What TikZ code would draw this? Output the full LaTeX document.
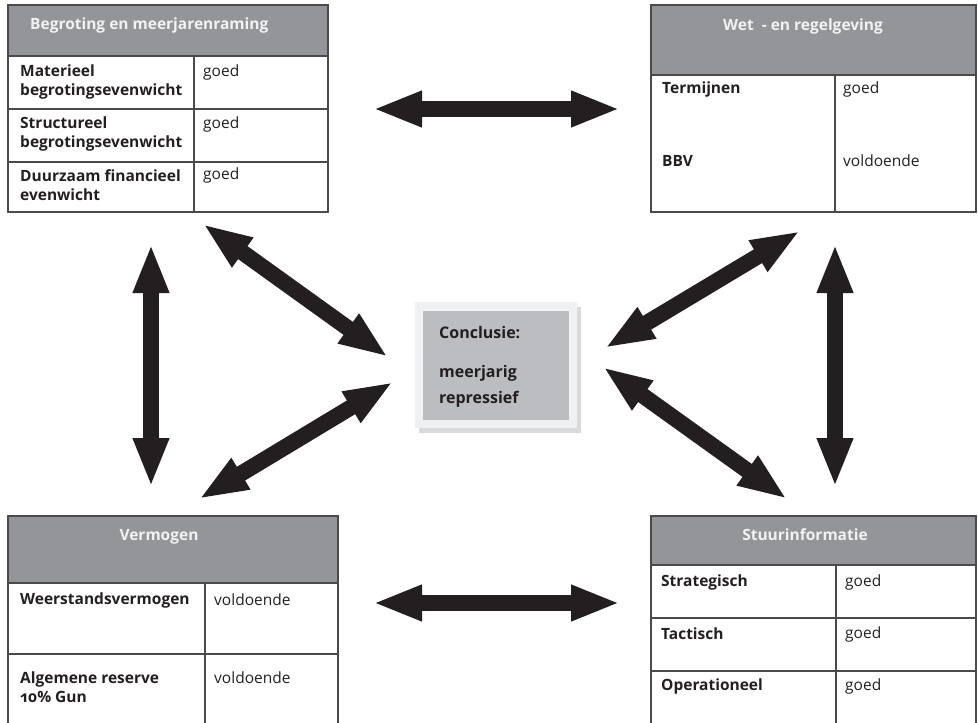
\documentclass[tikz,border=0pt]{standalone}
\usepackage{fontspec}
\setmainfont{Open Sans}[Numbers=OldStyle]
\usetikzlibrary{arrows.meta}
\definecolor{hdr}{HTML}{939598}
\definecolor{hdrtxt}{HTML}{F2F2F2}
\definecolor{rule}{HTML}{4A4A4A}
\definecolor{arr}{HTML}{231F20}
\definecolor{cout}{HTML}{EFF0F2}
\definecolor{cshadow}{HTML}{D9DADC}
\definecolor{cin}{HTML}{BCBDC0}
\definecolor{txt}{HTML}{231F20}
\tikzset{
  tbl/.style={draw=rule, line width=1.3pt, inner sep=0pt, anchor=north west},
  gridline/.style={draw=rule, line width=1.3pt},
  htext/.style={font=\fontsize{15.5}{19}\selectfont\bfseries, text=hdrtxt, inner sep=0pt},
  ltext/.style={font=\fontsize{15.5}{19.5}\selectfont\bfseries, text=txt, inner sep=0pt, anchor=west, align=left},
  vtext/.style={font=\fontsize{15.5}{19.5}\selectfont, text=txt, inner sep=0pt, anchor=west},
  ctext/.style={font=\fontsize{16}{26}\selectfont\bfseries, text=txt, inner sep=0pt, anchor=west, align=left},
  dblarrow/.style={draw=arr, line width=16pt, {Triangle[width=33pt,length=49pt]}-{Triangle[width=33pt,length=49pt]}}
}
\begin{document}
\begin{tikzpicture}[x=1pt,y=-1pt]
\useasboundingbox (0,0) rectangle (978,723);
% ---------- top-left table ----------
\node[tbl, minimum width=320pt, minimum height=207pt] (tl) at (8,5) {};
\fill[hdr] (8,5) rectangle (328,56);
\draw[gridline] (8,5) rectangle (328,212);
\draw[gridline] (8,56) -- (328,56);
\draw[gridline] (8,109) -- (328,109);
\draw[gridline] (8,162) -- (328,162);
\draw[gridline] (194,56) -- (194,212);
\node[htext, anchor=west] (tlh) at (30,25) {Begroting en meerjarenraming};
\node[ltext] (tl1) at (20,82) {Materieel\\begrotingsevenwicht};
\node[vtext] (tl1v) at (203,72) {goed};
\node[ltext] (tl2) at (20,134) {Structureel\\begrotingsevenwicht};
\node[vtext] (tl2v) at (203,124) {goed};
\node[ltext] (tl3) at (20,185) {Duurzaam financieel\\evenwicht};
\node[vtext] (tl3v) at (203,175) {goed};
% ---------- top-right table ----------
\node[tbl, minimum width=325pt, minimum height=207pt] (tr) at (651,5) {};
\fill[hdr] (651,5) rectangle (976,75);
\draw[gridline] (651,5) rectangle (976,212);
\draw[gridline] (651,75) -- (976,75);
\draw[gridline] (835,75) -- (835,212);
\node[htext] (trh) at (803,26) {Wet \ - en regelgeving};
\node[ltext] (tr1) at (662,89) {Termijnen};
\node[vtext] (tr1v) at (843,89) {goed};
\node[ltext] (tr2) at (662,161) {BBV};
\node[vtext] (tr2v) at (843,161) {voldoende};
% ---------- bottom-left table ----------
\node[tbl, minimum width=330pt, minimum height=207pt] (bl) at (8,516) {};
\fill[hdr] (8,516) rectangle (338,583);
\draw[gridline] (8,730) -- (8,516) -- (338,516) -- (338,730);
\draw[gridline] (8,583) -- (338,583);
\draw[gridline] (8,654) -- (338,654);
\draw[gridline] (205,583) -- (205,730);
\node[htext] (blh) at (159,537) {Vermogen};
\node[ltext] (bl1) at (20,600) {Weerstandsvermogen};
\node[vtext] (bl1v) at (214,600) {voldoende};
\node[ltext] (bl2) at (20,687) {Algemene reserve\\10\% Gun};
\node[vtext] (bl2v) at (214,678) {voldoende};
% ---------- bottom-right table ----------
\node[tbl, minimum width=325pt, minimum height=207pt] (br) at (651,516) {};
\fill[hdr] (651,516) rectangle (976,565);
\draw[gridline] (651,730) -- (651,516) -- (976,516) -- (976,730);
\draw[gridline] (651,565) -- (976,565);
\draw[gridline] (651,618) -- (976,618);
\draw[gridline] (651,671) -- (976,671);
\draw[gridline] (836,565) -- (836,730);
\node[htext] (brh) at (805,535) {Stuurinformatie};
\node[ltext] (br1) at (661,582) {Strategisch};
\node[vtext] (br1v) at (845,582) {goed};
\node[ltext] (br2) at (661,634) {Tactisch};
\node[vtext] (br2v) at (845,634) {goed};
\node[ltext] (br3) at (661,686) {Operationeel};
\node[vtext] (br3v) at (845,686) {goed};
% ---------- centre box ----------
\fill[cshadow] (419,307) rectangle (581,433);
\fill[cout] (415,302) rectangle (577,428);
\node[fill=cin, inner sep=0pt, minimum width=146pt, minimum height=109pt, anchor=north west] (c) at (423,311) {};
\node[ctext] (c1) at (439,333) {Conclusie:};
\node[ctext] (c2) at (439,386) {meerjarig\\repressief};
% ---------- arrow end points ----------
\coordinate (a1s) at (373,109); \coordinate (a1e) at (620,109);
\coordinate (a2s) at (373,603); \coordinate (a2e) at (620,603);
\coordinate (a3s) at (151,244); \coordinate (a3e) at (151,487);
\coordinate (a4s) at (835,244); \coordinate (a4e) at (835,487);
\coordinate (a5s) at (203,224); \coordinate (a5e) at (388,357);
\coordinate (a6s) at (199,499); \coordinate (a6e) at (393,382);
\coordinate (a7s) at (800,231); \coordinate (a7e) at (605,348);
\coordinate (a8s) at (603,367); \coordinate (a8e) at (787,499);
\draw[dblarrow] (a1s) -- (a1e);
\draw[dblarrow] (a2s) -- (a2e);
\draw[dblarrow] (a3s) -- (a3e);
\draw[dblarrow] (a4s) -- (a4e);
\draw[dblarrow] (a5s) -- (a5e);
\draw[dblarrow] (a6s) -- (a6e);
\draw[dblarrow] (a7s) -- (a7e);
\draw[dblarrow] (a8s) -- (a8e);
\end{tikzpicture}
\end{document}
